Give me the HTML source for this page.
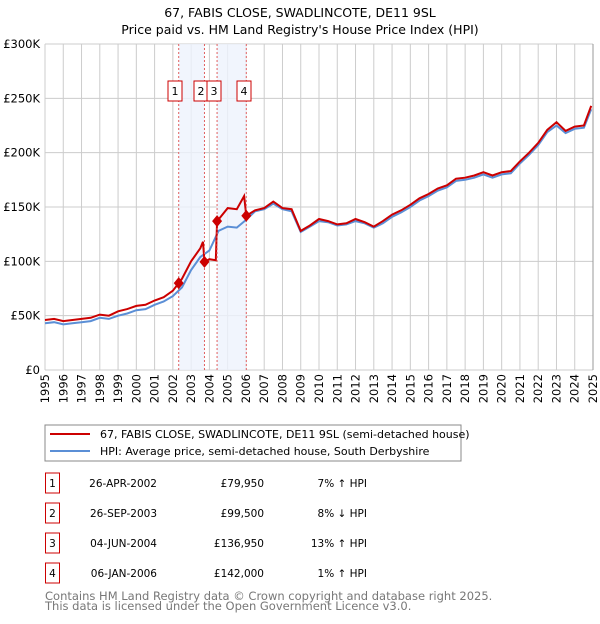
<!DOCTYPE html>
<html><head><meta charset="utf-8"><style>
body{margin:0;background:#fff;font-family:"DejaVu Sans","Liberation Sans",sans-serif;}
svg text{font-family:"DejaVu Sans","Liberation Sans",sans-serif;}
</style></head><body>
<svg id="chart" width="600" height="620" viewBox="0 0 600 620" xmlns="http://www.w3.org/2000/svg">
<text x="300" y="17" text-anchor="middle" font-size="12.5">67, FABIS CLOSE, SWADLINCOTE, DE11 9SL</text>
<text x="300" y="34" text-anchor="middle" font-size="12.5">Price paid vs. HM Land Registry's House Price Index (HPI)</text>
<g id="grid"></g><g id="shade"></g><g id="lines"></g><g id="marks"></g><g id="axes"></g>
<rect x="45" y="425" width="416" height="36" fill="#fff" stroke="#888"/>
<line x1="50" y1="434" x2="90" y2="434" stroke="#cc0000" stroke-width="2"/>
<text x="100" y="438" font-size="11">67, FABIS CLOSE, SWADLINCOTE, DE11 9SL (semi-detached house)</text>
<line x1="50" y1="451" x2="90" y2="451" stroke="#5b8fd6" stroke-width="2"/>
<text x="100" y="455" font-size="11">HPI: Average price, semi-detached house, South Derbyshire</text>
<g id="table" font-size="10.5"></g>
<text x="45" y="600" font-size="11.5" fill="#777">Contains HM Land Registry data © Crown copyright and database right 2025.</text>
<text x="45" y="610" font-size="11.5" fill="#777">This data is licensed under the Open Government Licence v3.0.</text>
</svg>
<script>
const hpiYears=[1995,1995.5,1996,1996.5,1997,1997.5,1998,1998.5,1999,1999.5,2000,2000.5,2001,2001.5,2002,2002.5,2003,2003.5,2004,2004.5,2005,2005.5,2006,2006.5,2007,2007.5,2008,2008.5,2009,2009.5,2010,2010.5,2011,2011.5,2012,2012.5,2013,2013.5,2014,2014.5,2015,2015.5,2016,2016.5,2017,2017.5,2018,2018.5,2019,2019.5,2020,2020.5,2021,2021.5,2022,2022.5,2023,2023.5,2024,2024.5,2024.9];
const hpiValues=[43,44,42,43,44,45,48,47,50,52,55,56,60,63,68,76,92,104,110,128,132,131,138,146,148,153,148,146,127,132,137,136,133,134,137,135,131,135,141,145,150,156,160,165,168,174,175,177,180,177,180,181,190,198,207,219,225,218,222,223,240];
const propYears=[1995,1995.5,1996,1996.5,1997,1997.5,1998,1998.5,1999,1999.5,2000,2000.5,2001,2001.5,2002,2002.32,2002.5,2003,2003.5,2003.65,2003.73,2004,2004.35,2004.42,2005,2005.5,2005.9,2006.02,2006.5,2007,2007.5,2008,2008.5,2009,2009.5,2010,2010.5,2011,2011.5,2012,2012.5,2013,2013.5,2014,2014.5,2015,2015.5,2016,2016.5,2017,2017.5,2018,2018.5,2019,2019.5,2020,2020.5,2021,2021.5,2022,2022.5,2023,2023.5,2024,2024.5,2024.9];
const propValues=[46,47,45,46,47,48,51,50,54,56,59,60,64,67,73,79.95,84,100,112,118,99.5,102,101,136.95,149,148,160,142,147,149,155,149,148,128,133,139,137,134,135,139,136,132,137,143,147,152,158,162,167,170,176,177,179,182,179,182,183,192,200,209,221,228,220,224,225,243];
const saleLabels=["1","2","3","4"];
const saleYears=[2002.32,2003.73,2004.42,2006.02];
const saleValues=[79.95,99.5,136.95,142];
const saleDates=["26-APR-2002","26-SEP-2003","04-JUN-2004","06-JAN-2006"];
const salePrices=["£79,950","£99,500","£136,950","£142,000"];
const saleHpi=["7% ↑ HPI","8% ↓ HPI","13% ↑ HPI","1% ↑ HPI"];
const yTicks=[0,50,100,150,200,250,300];
const yTickLabels=["£0","£50K","£100K","£150K","£200K","£250K","£300K"];
const xTicks=[1995,1996,1997,1998,1999,2000,2001,2002,2003,2004,2005,2006,2007,2008,2009,2010,2011,2012,2013,2014,2015,2016,2017,2018,2019,2020,2021,2022,2023,2024,2025];

const NS="http://www.w3.org/2000/svg";
const X=y=>45+(y-1995)*(548/30);
const Y=v=>370-v*(326/300);
function mk(tag,attrs,parent,txt){const e=document.createElementNS(NS,tag);for(const k in attrs)e.setAttribute(k,attrs[k]);if(txt!==undefined)e.textContent=txt;document.getElementById(parent).appendChild(e);return e;}
xTicks.forEach(t=>{const l=mk('line',{x1:X(t),x2:X(t),y1:44,y2:370,stroke:'#ccc'},'grid');


const tx=mk('text',{transform:`translate(${X(t)+4},374) rotate(-90)`,'text-anchor':'end','font-size':'11.5'},'axes',String(t));

});
yTicks.forEach((t,i)=>{const l=mk('line',{x1:45,x2:593,y1:Y(t),y2:Y(t),stroke:'#ccc'},'grid');


const tx=mk('text',{x:40,y:Y(t)+4,'text-anchor':'end','font-size':'11.5'},'axes',yTickLabels[i]);

});
const rb=mk('line',{x1:593,x2:593,y1:44,y2:370,stroke:'#999'},'axes');


[[0,1],[2,3]].forEach(p=>{const r=mk('rect',{x:X(saleYears[p[0]]),y:44,width:X(saleYears[p[1]])-X(saleYears[p[0]]),height:326,fill:'#eef3fc',opacity:0.8},'shade');

});
function path(xs,vs){return xs.map((x,i)=>(i?'L':'M')+X(x).toFixed(1)+','+Y(vs[i]).toFixed(1)).join('');}
const hl=mk('path',{d:path(hpiYears,hpiValues),fill:'none',stroke:'#5b8fd6','stroke-width':2},'lines');


const pl=mk('path',{d:path(propYears,propValues),fill:'none',stroke:'#cc0000','stroke-width':2},'lines');


const boxX=[175,201,214,244];
saleYears.forEach((s,i)=>{const x=X(s),y=Y(saleValues[i]);
const dl=mk('line',{x1:x,x2:x,y1:44,y2:370,stroke:'#e06060','stroke-dasharray':'2,2'},'marks');


const d=mk('path',{d:`M${x},${y-6}L${x+5},${y}L${x},${y+6}L${x-5},${y}Z`,fill:'#cc0000'},'marks');


const b=mk('rect',{x:boxX[i]-7,y:81,width:14,height:20,fill:'#fff',stroke:'#cc0000'},'marks');


const t=mk('text',{x:boxX[i],y:95,'text-anchor':'middle','font-size':'11'},'marks',saleLabels[i]);


const ry=483+i*30;
const tb=mk('rect',{x:45.5,y:ry-10,width:14,height:20,fill:'#fff',stroke:'#cc0000'},'table');


const tn=mk('text',{x:52.5,y:ry+4,'text-anchor':'middle'},'table',saleLabels[i]);


const td=mk('text',{x:157,y:ry+4,'text-anchor':'end'},'table',saleDates[i]);


const tp=mk('text',{x:264,y:ry+4,'text-anchor':'end'},'table',salePrices[i]);


const th=mk('text',{x:367,y:ry+4,'text-anchor':'end'},'table',saleHpi[i]);

});
</script>
</body></html>
